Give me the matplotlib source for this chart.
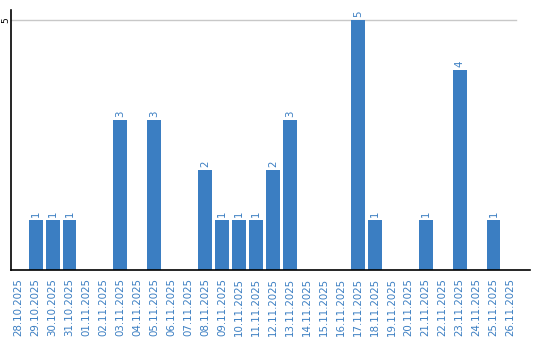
import matplotlib.pyplot as plt
import numpy as np

# categories and counts
dates = ["28.10.2025", "29.10.2025", "30.10.2025", "31.10.2025", "01.11.2025",
         "02.11.2025", "03.11.2025", "04.11.2025", "05.11.2025", "06.11.2025",
         "07.11.2025", "08.11.2025", "09.11.2025", "10.11.2025", "11.11.2025",
         "12.11.2025", "13.11.2025", "14.11.2025", "15.11.2025", "16.11.2025",
         "17.11.2025", "18.11.2025", "19.11.2025", "20.11.2025", "21.11.2025",
         "22.11.2025", "23.11.2025", "24.11.2025", "25.11.2025", "26.11.2025"]
counts = [0, 1, 1, 1, 0, 0, 3, 0, 3, 0, 0, 2, 1, 1, 1, 2, 3, 0, 0, 0,
          5, 1, 0, 0, 1, 0, 4, 0, 1, 0]
yticks = [5]

blue = '#3b7ec2'

fig = plt.figure(figsize=(5.4, 3.4), dpi=100)
ax = fig.add_axes([11/540, 70/340, 519/540, 260/340])

x = np.arange(len(dates))
ax.bar(x, counts, width=0.82, color=blue, zorder=2)

for xi, c in zip(x, counts):
    if c > 0:
        ax.text(xi, c + 0.06, str(c), rotation=90, ha='center', va='bottom',
                color=blue, fontsize=7.4)

ax.set_xlim(-0.45, 30.15)
ax.set_ylim(0, 5.2)
for t in yticks:
    ax.axhline(t, xmin=0, xmax=(29.3 + 0.45) / 30.6, color='#c8c8c8', lw=1, zorder=1)

ax.set_xticks(x)
ax.set_xticklabels(dates, rotation=90, color=blue, fontsize=7.4)
ax.set_yticks(yticks)
ax.set_yticklabels([str(t) for t in yticks], rotation=90, va='center', fontsize=6.5)
ax.tick_params(axis='both', length=0)
ax.tick_params(axis='x', pad=6)
ax.tick_params(axis='y', pad=0.5)

for s in ['top', 'right']:
    ax.spines[s].set_visible(False)
ax.spines['left'].set_linewidth(1.2)
ax.spines['bottom'].set_linewidth(1.2)

fig.savefig('out.png', dpi=100)
